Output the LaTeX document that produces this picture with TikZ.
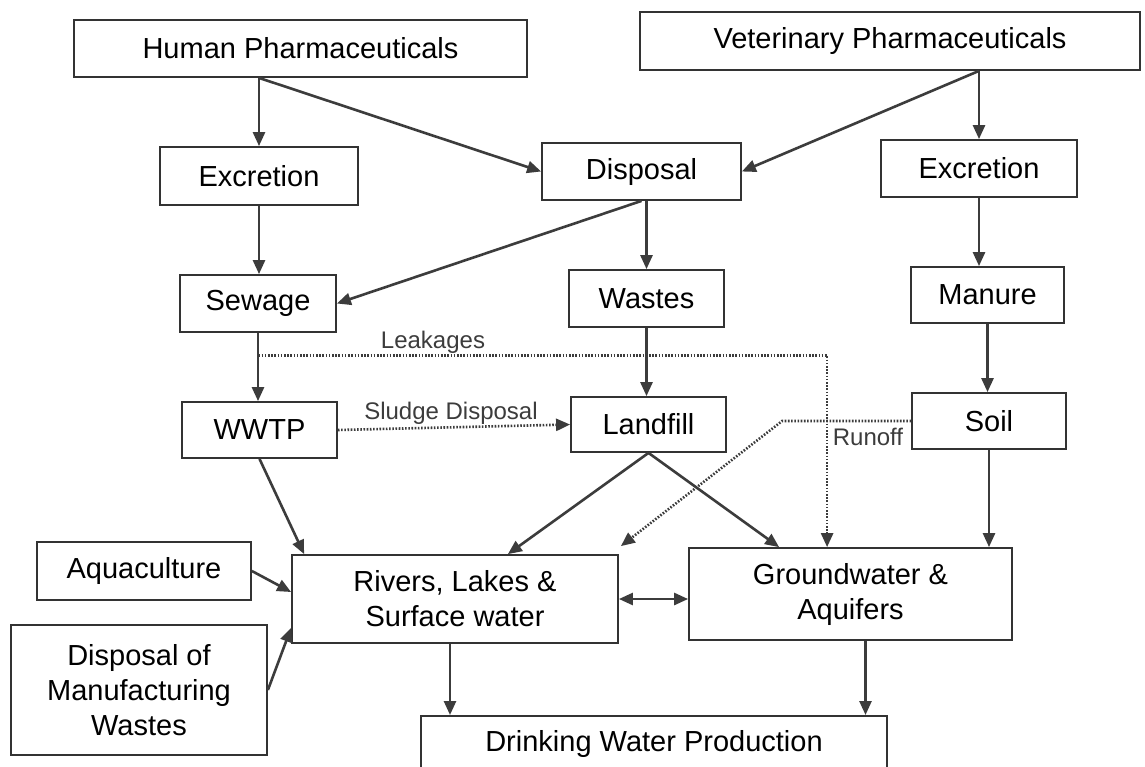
\documentclass[tikz,border=0pt]{standalone}
\usepackage{fontspec}
\setmainfont{Liberation Sans}
\usetikzlibrary{arrows.meta,calc}
\definecolor{linec}{HTML}{3C3C3C}
\definecolor{boxc}{HTML}{333333}
\begin{document}
\begin{tikzpicture}[x=1pt,y=-1pt,
 box/.style={draw=boxc,line width=1.8pt,fill=white,inner sep=0pt,align=center,text=black,font=\fontsize{29}{35}\selectfont},
 arr/.style={draw=linec,line width=2.6pt,-{Triangle[length=14pt,width=12pt]}},
 dblarr/.style={draw=linec,line width=2.6pt,{Triangle[length=14pt,width=12pt]}-{Triangle[length=14pt,width=12pt]}},
 plain/.style={draw=linec,line width=2.6pt},
 dotline/.style={draw=linec,line width=2.6pt,dash pattern=on 1.6pt off 1.6pt,-{Triangle[length=14pt,width=12pt]}},
 lbl/.style={text=linec,font=\fontsize{24}{28}\selectfont,inner sep=0pt}]
\useasboundingbox (0,0) rectangle (1145,766);
\fill[white] (0,0) rectangle (1145,766);

% boxes
\node[box,minimum width=453pt,minimum height=57pt] (hp) at (300.5,48.5) {Human Pharmaceuticals};
\node[box,minimum width=500pt,minimum height=58pt] (vp) at (890,41) {Veterinary Pharmaceuticals};
\node[box,minimum width=198pt,minimum height=58pt] (exl) at (259,176) {Excretion};
\node[box,minimum width=199pt,minimum height=57pt] (dis) at (641.5,171.5) {Disposal};
\node[box,minimum width=196pt,minimum height=57pt] (exr) at (979,168.5) {Excretion};
\node[box,minimum width=156pt,minimum height=57pt] (sew) at (258,303.5) {Sewage};
\node[box,minimum width=155pt,minimum height=57pt] (was) at (646.5,298.5) {Wastes};
\node[box,minimum width=153pt,minimum height=56pt] (man) at (987.5,295) {Manure};
\node[box,minimum width=155pt,minimum height=56pt] (wwtp) at (259.5,430) {WWTP};
\node[box,minimum width=155pt,minimum height=55pt] (land) at (648.5,424.5) {Landfill};
\node[box,minimum width=154pt,minimum height=56pt] (soil) at (989,421) {Soil};
\node[box,minimum width=214pt,minimum height=58pt] (aqua) at (144,571) {Aquaculture};
\node[box,minimum width=326pt,minimum height=88pt] (riv) at (455,599) {Rivers, Lakes \&\\Surface water};
\node[box,minimum width=323pt,minimum height=92pt] (gw) at (850.5,594) {Groundwater \&\\Aquifers};
\node[box,minimum width=256pt,minimum height=130pt] (mfg) at (139,690) {Disposal of\\Manufacturing\\Wastes};
\node[box,minimum width=466pt,minimum height=56pt,anchor=north] (dw) at (654,715) {Drinking Water Production};

% helper coordinates
\path (exl.north |- hp.south) coordinate (hpo);
\path (exr.north |- vp.south) coordinate (vpo);
\path ($(sew.south)!0.33!(wwtp.north)$) coordinate (lk);
\path ($(gw.north west)+(139,0)$) coordinate (gwl);
\path ($(soil.west)+(-129,0)$) coordinate (rn);
\path ($(riv.south)+(-5,0)$) coordinate (r1);
\path ($(gw.south)+(15,0)$) coordinate (g1);

% solid arrows
\draw[arr] (hpo) -- (exl.north);
\draw[arr] (hpo) -- (dis.west);
\draw[arr] (vpo) -- (dis.east);
\draw[arr] (vpo) -- (exr.north);
\draw[arr] (exl.south) -- (exl.south |- sew.north);
\draw[arr] (dis.south) -- (sew.east);
\draw[arr] (was.north |- dis.south) -- (was.north);
\draw[arr] (exr.south) -- (exr.south |- man.north);
\draw[arr] (sew.south) -- (sew.south |- wwtp.north);
\draw[arr] (was.south) -- (was.south |- land.north);
\draw[arr] (man.south) -- (man.south |- soil.north);
\draw[arr] (wwtp.south) -- ($(riv.north west)+(13,0)$);
\draw[arr] (land.south) -- ($(riv.north east)+(-111,0)$);
\draw[arr] (land.south) -- ($(gw.north west)+(91,0)$);
\draw[arr] (soil.south) -- (soil.south |- gw.north);
\draw[arr] (aqua.east) -- ($(riv.west)+(0,-7)$);
\draw[arr] (mfg.east) -- ($(riv.south west)+(0,-16)$);
\draw[dblarr] (riv.east) -- (riv.east -| gw.west);
\draw[arr] (r1) -- (r1 |- dw.north);
\draw[arr] (g1) -- (g1 |- dw.north);

% dotted connectors
\draw[dotline] (lk) -- (lk -| gwl) -- (gwl);
\draw[dotline] (wwtp.east) -- (land.west);
\draw[dotline] (soil.west) -- (rn) -- ($(riv.north east)+(2,-8)$);

% labels
\node[lbl] (lklbl) at (433,342) {Leakages};
\node[lbl] (sdlbl) at (451,413) {Sludge Disposal};
\node[lbl] (rolbl) at (868,437) {Runoff};
\end{tikzpicture}
\end{document}
